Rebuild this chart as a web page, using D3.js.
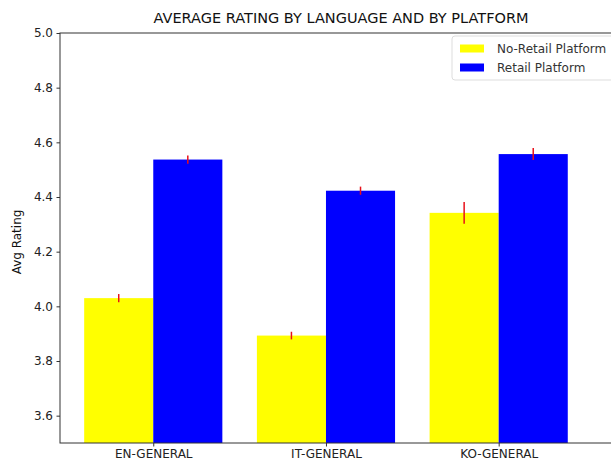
<!DOCTYPE html>
<html>
<head>
<meta charset="utf-8">
<script src="https://cdn.jsdelivr.net/npm/d3@7"></script>
<style>
  html, body { margin: 0; padding: 0; background: #fff; }
  svg { display: block; font-family: "DejaVu Sans", sans-serif; }
</style>
</head>
<body>
<svg id="chart" width="611" height="463"></svg>
<script>
// Average rating per language, split by platform type
const categories = ["EN-GENERAL", "IT-GENERAL", "KO-GENERAL"];
const seriesNames = ["No-Retail Platform", "Retail Platform"];
const noRetail = [4.03, 3.893, 4.342];
const retail = [4.537, 4.423, 4.557];
const noRetailErr = [0.015, 0.014, 0.04];
const retailErr = [0.015, 0.015, 0.022];
const yTicks = [3.6, 3.8, 4.0, 4.2, 4.4, 4.6, 4.8, 5.0];
const colors = ["#ffff00", "#0000ff"];

const svg = d3.select("#chart");
const margin = { left: 60, top: 33, right: 622, bottom: 443 };

const x = d3.scaleLinear().domain([-0.54, 2.714]).range([margin.left, margin.right]);
const y = d3.scaleLinear().domain([3.5, 5.0]).range([margin.bottom, margin.top]);
const barW = 0.4;

const plot = svg.append("g");
plot.append("clipPath").attr("id", "clip")
  .append("rect")
  .attr("x", margin.left).attr("y", margin.top)
  .attr("width", margin.right - margin.left)
  .attr("height", margin.bottom - margin.top);

const series = [
  { name: seriesNames[0], values: noRetail, err: noRetailErr, offset: -barW, color: colors[0] },
  { name: seriesNames[1], values: retail, err: retailErr, offset: 0, color: colors[1] }
];

const bars = plot.append("g").attr("clip-path", "url(#clip)");
series.forEach(s => {
  bars.selectAll(null)
    .data(s.values)
    .enter().append("rect")
    .attr("x", (d, i) => x(i + s.offset))
    .attr("width", (d, i) => x(i + s.offset + barW) - x(i + s.offset))
    .attr("y", d => y(d))
    .attr("height", d => y(3.5) - y(d))
    .attr("fill", s.color);
});

// error bars
series.forEach(s => {
  bars.selectAll(null)
    .data(s.values)
    .enter().append("line")
    .attr("x1", (d, i) => x(i + s.offset + barW / 2))
    .attr("x2", (d, i) => x(i + s.offset + barW / 2))
    .attr("y1", (d, i) => y(d - s.err[i]))
    .attr("y2", (d, i) => y(d + s.err[i]))
    .attr("stroke", "#e8101a")
    .attr("stroke-width", 1.5);
});

// axes
const yAxis = d3.axisLeft(y).tickValues(yTicks).tickFormat(d3.format(".1f")).tickSize(3.5).tickPadding(3.5);
const gy = svg.append("g").attr("transform", `translate(${margin.left},0)`).call(yAxis);
gy.select(".domain").remove();
gy.selectAll("text").attr("font-size", 12).attr("fill", "#222").attr("font-family", "DejaVu Sans, sans-serif");
gy.selectAll("line").attr("stroke", "#333");

const xAxis = d3.axisBottom(x).tickValues(d3.range(categories.length)).tickFormat(i => categories[i]).tickSize(3.5).tickPadding(3);
const gx = svg.append("g").attr("transform", `translate(0,${margin.bottom})`).call(xAxis);
gx.select(".domain").remove();
gx.selectAll("text").attr("font-size", 12).attr("fill", "#222").attr("font-family", "DejaVu Sans, sans-serif");
gx.selectAll("line").attr("stroke", "#333");

// spines
svg.append("rect")
  .attr("x", margin.left).attr("y", margin.top)
  .attr("width", margin.right - margin.left)
  .attr("height", margin.bottom - margin.top)
  .attr("fill", "none").attr("stroke", "#333").attr("stroke-width", 1);

// title
svg.append("text")
  .attr("x", (margin.left + margin.right) / 2).attr("y", 23)
  .attr("text-anchor", "middle").attr("font-size", 14.5).attr("fill", "#111")
  .text("AVERAGE RATING BY LANGUAGE AND BY PLATFORM");

// y label
svg.append("text")
  .attr("transform", `translate(21,${(margin.top + margin.bottom) / 2 + 4}) rotate(-90)`)
  .attr("text-anchor", "middle").attr("font-size", 12).attr("fill", "#111")
  .text("Avg Rating");

// legend
const lg = svg.append("g").attr("transform", "translate(452,36)");
lg.append("rect")
  .attr("x", 0).attr("y", 0).attr("width", 170).attr("height", 44)
  .attr("rx", 3).attr("fill", "#fff").attr("fill-opacity", 0.8)
  .attr("stroke", "#ddd");
series.forEach((s, i) => {
  lg.append("rect")
    .attr("x", 8).attr("y", 8.5 + i * 19).attr("width", 24).attr("height", 8)
    .attr("fill", s.color);
  lg.append("text")
    .attr("x", 45).attr("y", 17 + i * 19)
    .attr("font-size", 12).attr("fill", "#333")
    .text(s.name);
});
</script>
</body>
</html>
